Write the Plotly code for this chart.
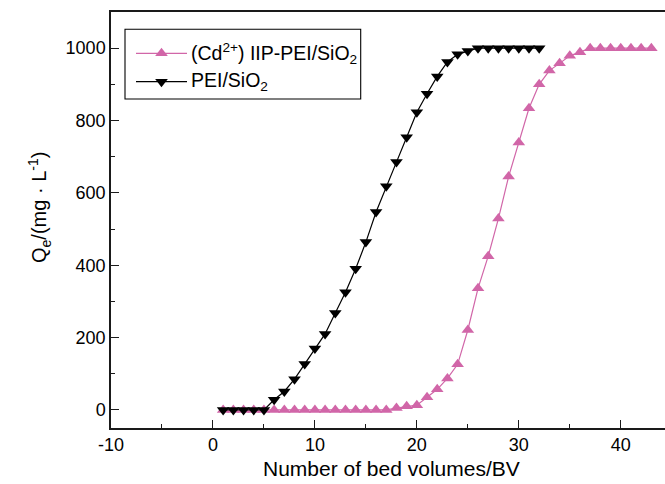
import plotly.graph_objects as go

# Bed volumes and effluent concentration for each sorbent
bv_iip = [1, 2, 3, 4, 5, 6, 7, 8, 9, 10, 11, 12, 13, 14, 15, 16, 17, 18, 19, 20,
          21, 22, 23, 24, 25, 26, 27, 28, 29, 30, 31, 32, 33, 34, 35, 36, 37, 38,
          39, 40, 41, 42, 43]
q_iip = [0, 0, 0, 0, 0, 0, 0, 0, 0, 0, 0, 0, 0, 0, 0, 0, 0, 5, 10, 13,
         35, 57, 87, 126, 221, 336, 425, 529, 645, 739, 834, 900, 938, 958, 979, 989, 1000, 1000,
         1000, 1000, 1000, 1000, 1000]

bv_pei = [1, 2, 3, 4, 5, 6, 7, 8, 9, 10, 11, 12, 13, 14, 15, 16, 17, 18, 19, 20,
          21, 22, 23, 24, 25, 26, 27, 28, 29, 30, 31, 32]
q_pei = [0, 0, 0, 0, 0, 28, 51, 85, 127, 170, 210, 268, 325, 390, 464, 547, 618, 685, 754, 823,
         874, 922, 962, 983, 992, 1000, 1000, 1000, 1000, 1000, 1000, 1000]

x_ticks = [-10, 0, 10, 20, 30, 40]
x_tick_labels = ["-10", "0", "10", "20", "30", "40"]
y_ticks = [0, 200, 400, 600, 800, 1000]
y_tick_labels = ["0", "200", "400", "600", "800", "1000"]

W, H = 665, 484
ML, MR, MT, MB = 111, 0, 12, 56
PW, PH = W - ML - MR, H - MT - MB

def px(xp):
    return (xp - ML) / PW

def py(yp):
    return (H - MB - yp) / PH

PINK = "#D166A8"
INK = "#1a1a1a"
FONT = "Liberation Sans, Arial, sans-serif"

fig = go.Figure()
fig.add_trace(go.Scatter(
    x=bv_iip, y=q_iip, mode="lines+markers", showlegend=False,
    line=dict(color=PINK, width=1.2),
    marker=dict(symbol="triangle-up", size=11, color=PINK),
    cliponaxis=False,
))
fig.add_trace(go.Scatter(
    x=bv_pei, y=q_pei, mode="lines+markers", showlegend=False,
    line=dict(color="black", width=1.2),
    marker=dict(symbol="triangle-down", size=11, color="black"),
    cliponaxis=False,
))

# Hand-drawn legend box
legend_rows = [
    (53.3, PINK, "triangle-up", "(Cd<sup>2+</sup>) IIP-PEI/SiO<sub>2</sub>"),
    (81.7, "black", "triangle-down", "PEI/SiO<sub>2</sub>"),
]
shapes = [dict(type="rect", xref="paper", yref="paper",
               x0=px(125), x1=px(360.7), y0=py(99), y1=py(29.3),
               line=dict(color="black", width=1.1))]
annotations = []
for ry, col, sym, label in legend_rows:
    shapes.append(dict(type="line", xref="paper", yref="paper",
                       x0=px(136), x1=px(187), y0=py(ry), y1=py(ry),
                       line=dict(color=col, width=1.2)))
    fig.add_trace(go.Scatter(
        x=[px(161.5)], y=[py(ry)], xaxis="x2", yaxis="y2", mode="markers",
        showlegend=False, hoverinfo="skip",
        marker=dict(symbol=sym, size=11, color=col),
    ))
    annotations.append(dict(xref="paper", yref="paper", x=px(189), y=py(ry),
                            xanchor="left", yanchor="middle", showarrow=False,
                            text=label, font=dict(size=19.5, color="black", family=FONT)))

# Axis titles
annotations.append(dict(xref="x", yref="paper", x=17.5, y=py(468),
                        xanchor="center", yanchor="middle", showarrow=False,
                        text="Number of bed volumes/BV",
                        font=dict(size=21, color="black", family=FONT)))
annotations.append(dict(xref="paper", yref="paper", x=px(39), y=py(208),
                        xanchor="center", yanchor="middle", showarrow=False, textangle=-90,
                        text="Q<sub>e</sub>/(mg · L<sup>-1</sup>)",
                        font=dict(size=20, color="black", family=FONT)))

axis_common = dict(
    showgrid=False, zeroline=False, showline=True, linecolor=INK, linewidth=1.5,
    ticks="inside", ticklen=8, tickwidth=1.3, tickcolor=INK,
    tickfont=dict(size=18, color="black", family=FONT),
)
fig.update_layout(
    width=W, height=H,
    margin=dict(l=ML, r=MR, t=MT, b=MB, pad=0),
    paper_bgcolor="white", plot_bgcolor="white",
    font=dict(family=FONT, color="black"),
    xaxis=dict(range=[-10, 44.34], tickvals=x_ticks, ticktext=x_tick_labels, mirror=True,
               minor=dict(dtick=5, tick0=0, ticks="inside", ticklen=4.5, tickwidth=1.3, tickcolor=INK),
               **axis_common),
    yaxis=dict(range=[-50, 1100], tickvals=y_ticks, ticktext=y_tick_labels,
               minor=dict(dtick=100, tick0=0, ticks="inside", ticklen=4.5, tickwidth=1.3, tickcolor=INK),
               **axis_common),
    xaxis2=dict(overlaying="x", range=[0, 1], visible=False, anchor="y2"),
    yaxis2=dict(overlaying="y", range=[0, 1], visible=False, anchor="x2"),
    shapes=shapes,
    annotations=annotations,
)

fig.write_html("out.html")
